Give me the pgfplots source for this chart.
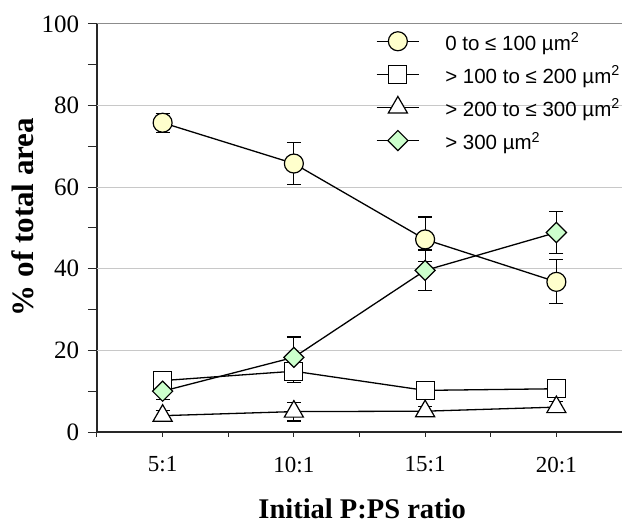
\documentclass[border=0pt]{standalone}
\usepackage{fontspec}
\setmainfont{Liberation Serif}
\newfontfamily\sansleg{Liberation Sans}
\usepackage{pgfplots}
\usepackage{pgfplotstable}
\pgfplotsset{compat=1.18}
\definecolor{cfill}{RGB}{255,255,204}
\definecolor{dfill}{RGB}{204,255,204}
\definecolor{gridc}{RGB}{200,200,200}
\definecolor{topc}{RGB}{140,140,140}
\definecolor{axc}{RGB}{40,40,40}

\pgfplotstableread{
x y e
1 75.8 2.3
2 65.8 5.2
3 47.2 5.5
4 36.8 5.4
}\circ
\pgfplotstableread{
x y e
1 12.6 1.0
2 14.9 2.7
3 10.2 0.8
4 10.6 0.8
}\sq
\pgfplotstableread{
x y e
1 4.0 1.2
2 5.0 2.3
3 5.1 1.1
4 6.1 1.4
}\tri
\pgfplotstableread{
x y e
1 10.0 2.0
2 18.3 5.0
3 39.6 5.0
4 48.9 5.1
}\dia

\begin{document}
\begin{tikzpicture}
\begin{axis}[
  name=ax,
  scale only axis,
  width=525pt, height=408pt,
  xmin=0.5, xmax=4.5, ymin=0, ymax=100,
  axis x line*=bottom, axis y line*=left,
  axis line style={axc, line width=1.1pt},
  tick align=outside,
  xtick={0.5,1,...,4.5},
  xticklabels={,5:1,,10:1,,15:1,,20:1,},
  ytick={0,10,...,100},
  yticklabels={0,,20,,40,,60,,80,,100},
  xtick style={axc, line width=1pt, /pgfplots/major tick length=5pt},
  ytick style={axc, line width=1pt, /pgfplots/major tick length=9pt},
  extra y ticks={20,40,60,80},
  extra y tick labels={,,,},
  extra y tick style={grid=major, major grid style={gridc, line width=0.9pt}},
  xticklabel style={font=\fontsize{23}{27}\selectfont, yshift=-17pt},
  yticklabel style={font=\fontsize{25}{29}\selectfont, xshift=-10pt},
  xlabel={\textbf{Initial P:PS ratio}},
  ylabel={\textbf{\% of total area}},
  xlabel style={font=\fontsize{28.5}{34}\selectfont, at={(axis description cs:0.505,-0.212)}, anchor=base},
  ylabel style={font=\fontsize{31}{36}\selectfont, at={(axis description cs:-0.141,0.527)}, anchor=center, rotate=0},
  error bars/error bar style={black, line width=1.2pt},
  error bars/error mark options={rotate=90, mark size=7pt, line width=1.2pt, black},
  legend style={draw=none, fill=none, inner sep=0pt,
    at={(axis description cs:0.531,0.995)}, anchor=north west,
    font=\sansleg\fontsize{20.5}{24}\selectfont,
    row sep=3.1pt,
    nodes={inner sep=0pt, text height=24pt, text depth=6pt},
    /tikz/every odd column/.append style={column sep=25.5pt}},
  legend cell align=left,
  legend image code/.code={
    \draw[#1,mark repeat=2,mark phase=2] plot coordinates {(0pt,0pt) (21.25pt,0pt) (42.5pt,0pt)};
  },
]
\draw[topc, line width=1pt] (rel axis cs:0,1) -- (rel axis cs:1,1);
\addplot[black, line width=1.3pt, mark=*, mark size=9.5pt, mark options={fill=cfill, draw=black, line width=1.2pt, solid},
  error bars/.cd, y dir=both, y explicit] table[x=x, y=y, y error=e] {\circ};
\addlegendentry{0 to ≤ 100 µm\textsuperscript{2}}
\addplot[black, line width=1.3pt, mark=square*, mark size=9pt, mark options={fill=white, draw=black, line width=1.2pt, solid},
  error bars/.cd, y dir=both, y explicit] table[x=x, y=y, y error=e] {\sq};
\addlegendentry{> 100 to ≤ 200 µm\textsuperscript{2}}
\addplot[black, line width=1.3pt, mark=triangle*, mark size=11pt, mark options={fill=white, draw=black, line width=1.2pt, solid},
  error bars/.cd, y dir=both, y explicit] table[x=x, y=y, y error=e] {\tri};
\addlegendentry{> 200 to ≤ 300 µm\textsuperscript{2}}
\addplot[black, line width=1.3pt, mark=square*, mark size=7.1pt, mark options={rotate=45, fill=dfill, draw=black, line width=1.2pt, solid},
  error bars/.cd, y dir=both, y explicit] table[x=x, y=y, y error=e] {\dia};
\addlegendentry{> 300 µm\textsuperscript{2}}
\end{axis}
\pgfresetboundingbox
\path ([shift={(-97pt,-93pt)}]ax.south west) rectangle ([shift={(0pt,24pt)}]ax.north east);
\end{tikzpicture}
\end{document}
